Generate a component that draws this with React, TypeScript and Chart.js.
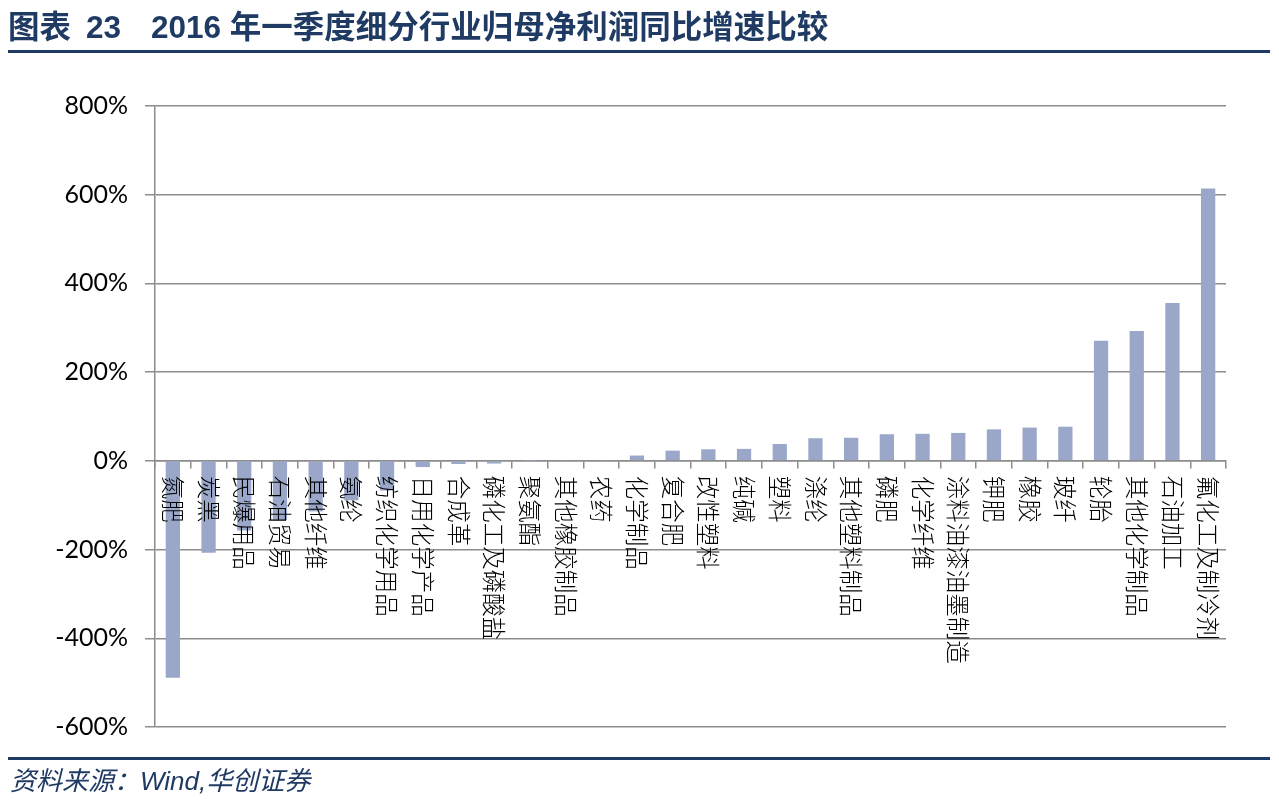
import React, { useEffect, useRef } from 'react';
import { Chart, registerables } from 'chart.js';

Chart.register(...registerables);

const categories: string[] = [
  '氮肥', '炭黑', '民爆用品', '石油贸易', '其他纤维', '氨纶', '纺织化学用品', '日用化学产品',
  '合成革', '磷化工及磷酸盐', '聚氨酯', '其他橡胶制品', '农药', '化学制品', '复合肥', '改性塑料',
  '纯碱', '塑料', '涤纶', '其他塑料制品', '磷肥', '化学纤维', '涂料油漆油墨制造', '钾肥',
  '橡胶', '玻纤', '轮胎', '其他化学制品', '石油加工', '氟化工及制冷剂',
];

const growth: number[] = [
  -489, -207, -157, -134, -114, -89, -67, -14,
  -7, -6, 0.5, 2, 2, 12, 23, 26,
  27, 38, 51, 52, 60, 61, 63, 71,
  75, 77, 271, 293, 356, 614,
];

const yTickValues: number[] = [-600, -400, -200, 0, 200, 400, 600, 800];

const titleLabel = '图表';
const titleNumber = '23';
const titleText = '2016 年一季度细分行业归母净利润同比增速比较';
const sourceText = '资料来源：Wind,华创证券';

const NAVY = '#1f3a63';
const GRID = '#8c8c8c';
const BAR = '#9aa7c9';

const titleStyle: React.CSSProperties = {
  position: 'absolute',
  top: 9,
  whiteSpace: 'pre',
  fontFamily: '"Liberation Sans", "Noto Sans CJK SC", sans-serif',
  fontWeight: 'bold',
  fontSize: 31.5,
  lineHeight: '36px',
  color: NAVY,
};

export default function App() {
  const canvasRef = useRef<HTMLCanvasElement>(null);

  useEffect(() => {
    const canvas = canvasRef.current;
    if (!canvas) return;

    const labelPlugin = {
      id: 'verticalLabels',
      afterDatasetsDraw(chart: any) {
        const { ctx } = chart;
        const xs = chart.scales.x;
        const ys = chart.scales.y;
        const y0 = ys.getPixelForValue(0);
        ctx.save();
        ctx.font = '300 23.5px "Noto Sans CJK SC"';
        ctx.fillStyle = '#000';
        ctx.textAlign = 'left';
        ctx.textBaseline = 'middle';
        categories.forEach((c, i) => {
          const px = xs.getPixelForValue(i);
          ctx.save();
          ctx.translate(px, y0 + 15);
          ctx.rotate(Math.PI / 2);
          ctx.fillText(c, 0, 0);
          ctx.restore();
        });
        ctx.restore();
      },
    };

    const chart = new Chart(canvas, {
      type: 'bar',
      data: {
        labels: categories,
        datasets: [
          {
            data: growth,
            backgroundColor: BAR,
            borderWidth: 0,
            barPercentage: 0.4,
            categoryPercentage: 1,
          },
        ],
      },
      options: {
        animation: false,
        responsive: false,
        devicePixelRatio: 1,
        layout: { padding: { left: 0, right: 53, top: 106, bottom: 83 } },
        plugins: {
          legend: { display: false },
          tooltip: { enabled: false },
          title: { display: false },
        },
        scales: {
          x: {
            position: { y: 0 } as any,
            grid: {
              drawOnChartArea: false,
              drawTicks: true,
              tickLength: 7,
              color: GRID,
              lineWidth: 1.5,
              offset: true,
            },
            border: { display: true, color: GRID, width: 1.5 },
            ticks: { display: false },
          },
          y: {
            min: -600,
            max: 800,
            afterBuildTicks: (s: any) => {
              s.ticks = yTickValues.map((v) => ({ value: v }));
            },
            afterFit: (s: any) => {
              s.width = 155;
            },
            ticks: {
              callback: (v: any) => v + '%',
              font: { family: 'Lato', size: 25 },
              color: '#000',
              padding: 17,
            },
            grid: { color: GRID, lineWidth: 1.5, tickLength: 10 },
            border: { color: GRID, width: 1.5 },
          },
        },
      },
      plugins: [labelPlugin],
    });

    return () => {
      chart.destroy();
    };
  }, []);

  return (
    <div
      style={{
        position: 'absolute',
        left: 0,
        top: 0,
        width: 1279,
        height: 810,
        background: '#fff',
        overflow: 'hidden',
      }}
    >
      <canvas ref={canvasRef} width={1279} height={810} style={{ position: 'absolute', left: 0, top: 0 }} />
      <div style={{ ...titleStyle, left: 8 }}>{titleLabel}</div>
      <div style={{ ...titleStyle, left: 86 }}>{titleNumber}</div>
      <div style={{ ...titleStyle, left: 151 }}>{titleText}</div>
      <div style={{ position: 'absolute', left: 8, top: 50, width: 1262, height: 3, background: NAVY }} />
      <div style={{ position: 'absolute', left: 8, top: 757, width: 1262, height: 3, background: NAVY }} />
      <div
        style={{
          position: 'absolute',
          left: 10,
          top: 765,
          whiteSpace: 'pre',
          fontFamily: '"Liberation Sans", "Noto Sans CJK SC", sans-serif',
          fontStyle: 'italic',
          fontSize: 26,
          lineHeight: '32px',
          color: NAVY,
        }}
      >
        {sourceText}
      </div>
    </div>
  );
}
